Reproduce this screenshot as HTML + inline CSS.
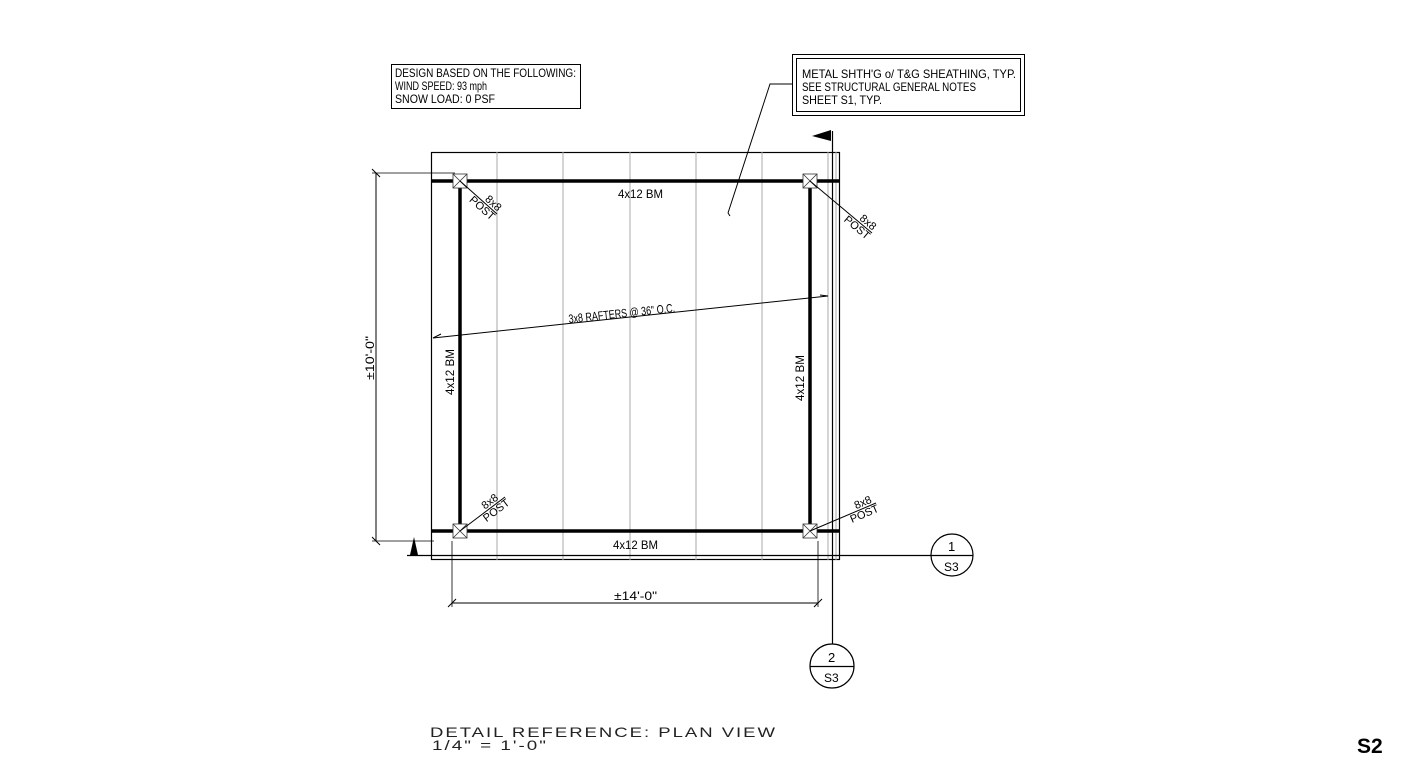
<!DOCTYPE html>
<html><head><meta charset="utf-8"><style>html,body{margin:0;padding:0;background:#fff}svg{display:block}</style></head>
<body>
<svg width="1401" height="765" viewBox="0 0 1401 765" xmlns="http://www.w3.org/2000/svg" font-family="Liberation Sans, sans-serif">
<g fill="none" stroke="#000">
<rect x="391.5" y="64.5" width="189" height="44" stroke-width="1"/>
<rect x="792.5" y="54.5" width="232" height="61" stroke-width="1"/>
<rect x="796.5" y="58.5" width="224" height="53" stroke-width="1"/>
<polyline points="792,84 770,84 728,213" stroke-width="1"/>
<path d="M728,213 l2,3" stroke-width="1"/>
<rect x="431.5" y="152.5" width="408" height="407" stroke-width="1.2"/>
<g stroke="#aaa" stroke-width="1">
<line x1="497" y1="152" x2="497" y2="560"/><line x1="563" y1="152" x2="563" y2="560"/>
<line x1="630" y1="152" x2="630" y2="560"/><line x1="696" y1="152" x2="696" y2="560"/>
<line x1="762" y1="152" x2="762" y2="560"/><line x1="828" y1="152" x2="828" y2="560"/>
<line x1="836" y1="152" x2="836" y2="560"/>
</g>
<line x1="431" y1="181" x2="840" y2="181" stroke-width="3.5"/>
<line x1="431" y1="531" x2="840" y2="531" stroke-width="3.5"/>
<line x1="460" y1="181" x2="460" y2="531" stroke-width="3.5"/>
<line x1="810" y1="181" x2="810" y2="531" stroke-width="3.5"/>
<g stroke-width="0.8" fill="#fff" stroke="#333">
<rect x="453" y="174" width="14" height="14"/><path d="M453,174l14,14M467,174l-14,14"/>
<rect x="803" y="174" width="14" height="14"/><path d="M803,174l14,14M817,174l-14,14"/>
<rect x="453" y="524" width="14" height="14"/><path d="M453,524l14,14M467,524l-14,14"/>
<rect x="803" y="524" width="14" height="14"/><path d="M803,524l14,14M817,524l-14,14"/>
</g>
<line x1="460" y1="181" x2="497" y2="214" stroke-width="1"/>
<line x1="810" y1="181" x2="872" y2="233" stroke-width="1"/>
<line x1="460" y1="531" x2="505" y2="497" stroke-width="1"/>
<line x1="810" y1="531" x2="876" y2="503" stroke-width="1"/>
<line x1="376" y1="173" x2="376" y2="541" stroke-width="1"/>
<line x1="372" y1="173" x2="455" y2="173" stroke-width="0.8"/>
<line x1="372" y1="541" x2="434" y2="541" stroke-width="0.8"/>
<path d="M372,169l8,8M372,537l8,8" stroke-width="1"/>
<line x1="452" y1="603" x2="818" y2="603" stroke-width="1"/>
<line x1="452" y1="541" x2="452" y2="607" stroke-width="0.8"/>
<line x1="818" y1="541" x2="818" y2="607" stroke-width="0.8"/>
<path d="M448,607l8,-8M814,607l8,-8" stroke-width="1"/>
<line x1="433" y1="338" x2="828" y2="296" stroke-width="1"/>
<path d="M433,338l8,-4M828,296l-8,-1" stroke-width="1"/>
<line x1="407" y1="555.5" x2="931" y2="555.5" stroke-width="1.2"/>
<circle cx="952" cy="555" r="21" stroke-width="1.2"/>
<line x1="931" y1="555.5" x2="973" y2="555.5" stroke-width="1.2"/>
<line x1="832.5" y1="131" x2="832.5" y2="644" stroke-width="1.2"/>
<circle cx="832" cy="666" r="22" stroke-width="1.2"/>
<line x1="810" y1="666.5" x2="854" y2="666.5" stroke-width="1.2"/>
</g>
<path d="M410,555 L414,537 L418,555 Z" fill="#000"/>
<path d="M812,136 L831,130 L831,141 Z" fill="#000"/>
<g font-size="12" fill="#000">
<text x="395" y="77" textLength="181" lengthAdjust="spacingAndGlyphs">DESIGN BASED ON THE FOLLOWING:</text>
<text x="395" y="90" textLength="92" lengthAdjust="spacingAndGlyphs">WIND SPEED: 93 mph</text>
<text x="395" y="103" textLength="100" lengthAdjust="spacingAndGlyphs">SNOW LOAD: 0 PSF</text>
<text x="802" y="78" textLength="214" lengthAdjust="spacingAndGlyphs">METAL SHTH'G o/ T&amp;G SHEATHING, TYP.</text>
<text x="802" y="91" textLength="174" lengthAdjust="spacingAndGlyphs">SEE STRUCTURAL GENERAL NOTES</text>
<text x="802" y="104" textLength="80" lengthAdjust="spacingAndGlyphs">SHEET S1, TYP.</text>
<text x="618" y="198" textLength="45" lengthAdjust="spacingAndGlyphs">4x12 BM</text>
<text x="613" y="549" textLength="45" lengthAdjust="spacingAndGlyphs">4x12 BM</text>
<text x="614" y="600" textLength="43" lengthAdjust="spacingAndGlyphs">±14'-0"</text>
<text transform="translate(454,395) rotate(-90)" textLength="46" lengthAdjust="spacingAndGlyphs">4x12 BM</text>
<text transform="translate(804,401) rotate(-90)" textLength="46" lengthAdjust="spacingAndGlyphs">4x12 BM</text>
<text transform="translate(374,380) rotate(-90)" textLength="44" lengthAdjust="spacingAndGlyphs">±10'-0"</text>
<text transform="translate(569,323) rotate(-6)" textLength="107" lengthAdjust="spacingAndGlyphs">3x8 RAFTERS @ 36" O.C.</text>
<g font-size="11" text-anchor="end">
<text transform="translate(497,214) rotate(41.7)" x="-1" y="-2">8x8</text>
<text transform="translate(497,214) rotate(41.7)" x="0" y="9">POST</text>
<text transform="translate(872,233) rotate(40)" x="-1" y="-2">8x8</text>
<text transform="translate(872,233) rotate(40)" x="0" y="9">POST</text>
<text transform="translate(505,497) rotate(-37)" x="-6" y="-2">8x8</text>
<text transform="translate(505,497) rotate(-37)" x="0" y="9">POST</text>
<text transform="translate(876,503) rotate(-23)" x="-3" y="-2">8x8</text>
<text transform="translate(876,503) rotate(-23)" x="0" y="9">POST</text>
</g>
<text x="948" y="551" font-size="13">1</text>
<text x="944" y="571" font-size="12">S3</text>
<text x="828" y="662" font-size="13">2</text>
<text x="824" y="682" font-size="12">S3</text>
</g>
<g fill="#222" font-size="14" letter-spacing="1.5">
<text x="430" y="737" textLength="347" lengthAdjust="spacingAndGlyphs">DETAIL REFERENCE: PLAN VIEW</text>
<text x="432" y="750" textLength="116" lengthAdjust="spacingAndGlyphs">1/4" = 1'-0"</text>
</g>
<text x="1357" y="753" font-size="21" font-weight="bold" fill="#000">S2</text>
</svg>
</body></html>
